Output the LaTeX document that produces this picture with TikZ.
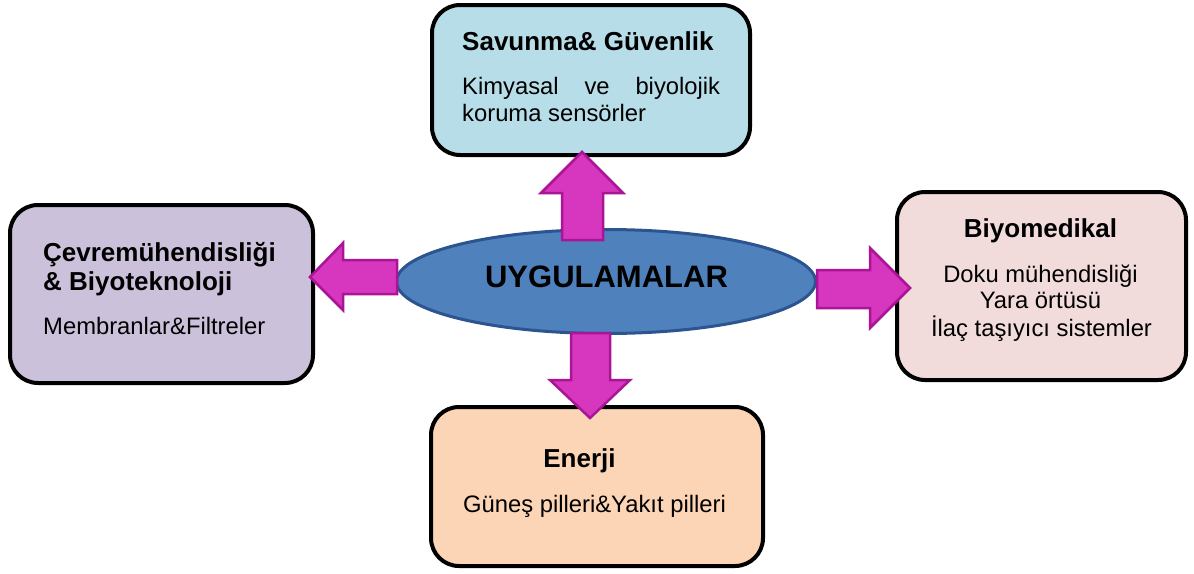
\documentclass[tikz,border=0pt]{standalone}
\usepackage{fontspec}
\setmainfont{Liberation Sans}
\usetikzlibrary{shapes.geometric}
\definecolor{savunmafill}{HTML}{B7DEE8}
\definecolor{cevrefill}{HTML}{CCC1DA}
\definecolor{biyofill}{HTML}{F2DCDB}
\definecolor{enerjifill}{HTML}{FBD5B5}
\definecolor{uygfill}{HTML}{4F81BD}
\definecolor{uygline}{HTML}{2B5490}
\definecolor{okfill}{HTML}{D637BE}
\definecolor{okline}{HTML}{AA1496}
\tikzset{
  titletext/.style={font=\fontsize{26}{31}\selectfont\bfseries},
  bodytext/.style={font=\fontsize{23.8}{27}\selectfont},
  bigarrow/.style={fill=okfill,draw=okline,line width=2.5pt,line join=miter}
}

\begin{document}
\begin{tikzpicture}[x=1pt,y=-1pt]
      \useasboundingbox (0,0) rectangle (1194,573);
      \begin{scope}[every node/.style={draw,rounded corners=28pt,line width=4pt,inner sep=0pt}]
        \node[fill=savunmafill,minimum width=318pt,minimum height=150pt] (savunma) at (591,80) {};
        \node[fill=cevrefill,minimum width=303pt,minimum height=178pt] (cevre) at (161.5,294) {};
        \node[fill=biyofill,minimum width=289pt,minimum height=188pt] (biyo) at (1041.5,286) {};
        \node[fill=enerjifill,minimum width=332pt,minimum height=159pt] (enerji) at (597,486.5) {};
      \end{scope}
      \node[ellipse,draw=uygline,fill=uygfill,line width=3pt,inner sep=0pt,
            minimum width=419pt,minimum height=104pt] (uyg) at (606,281.5) {};
      \begin{scope}[every node/.style={anchor=base west,inner sep=0pt}]
        \node[titletext] (savunmaT) at (462,50) {Savunma\& Güvenlik};
        \node[bodytext] (savunma1) at (462,94) {\hbox to 258pt{Kimyasal\hfill ve\hfill biyolojik}};
        \node[bodytext] (savunma2) at (462,121) {koruma sensörler};
        \node[titletext] (cevreT1) at (43,261) {Çevremühendisliği};
        \node[titletext] (cevreT2) at (43,290) {\& Biyoteknoloji};
        \node[bodytext] (cevre1) at (43,334) {Membranlar\&Filtreler};
      \end{scope}
      \begin{scope}[every node/.style={anchor=base,inner sep=0pt}]
        \node[titletext,font=\fontsize{31}{36}\selectfont\bfseries] (uygT) at (606.5,287) {UYGULAMALAR};
        \node[titletext] (biyoT) at (1040.5,237) {Biyomedikal};
        \node[bodytext] (biyo1) at (1040.5,282) {Doku mühendisliği};
        \node[bodytext] (biyo2) at (1040.5,308) {Yara örtüsü};
        \node[bodytext] (biyo3) at (1041.5,336) {İlaç taşıyıcı sistemler};
        \node[titletext] (enerjiT) at (579.5,467) {Enerji};
        \node[bodytext] (enerji1) at (594.5,512) {Güneş pilleri\&Yakıt pilleri};
      \end{scope}
      \begin{scope}[every path/.style={bigarrow}]
        % uyg -> savunma
        \path (562,240) -- (562,193) -- (541,193) -- (582,152) -- (623,193) -- (603,193) -- (603,240) -- cycle;
        % uyg -> cevre
        \path (397,260) -- (343,260) -- (343,243) -- (310,277) -- (343,310) -- (343,294) -- (397,294) -- cycle;
        % uyg -> biyo
        \path (817,270) -- (870,270) -- (870,248) -- (910,288) -- (870,328) -- (870,308) -- (817,308) -- cycle;
        % uyg -> enerji
        \path (571,333) -- (571,380) -- (550,380) -- (590,418) -- (630,380) -- (610,380) -- (610,333) -- cycle;
      \end{scope}
    \end{tikzpicture}
\end{document}
